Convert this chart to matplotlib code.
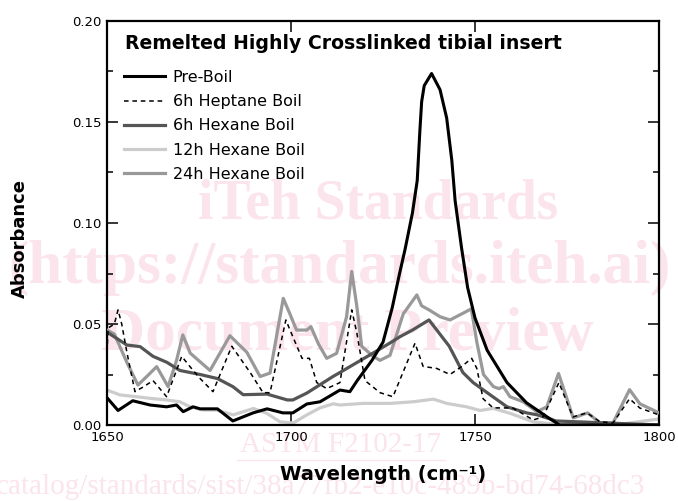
import matplotlib
matplotlib.use("Agg")
import matplotlib.pyplot as plt
from matplotlib.lines import Line2D
from matplotlib.ticker import MultipleLocator, FixedLocator

# Datos (numero de onda, absorbancia)
pre_x = [1650, 1653, 1657, 1661.7, 1666.2, 1668.9, 1670.7, 1673.4, 1675.3, 1680, 1684.2, 1689.7,
         1693.5, 1697.8, 1700.5, 1704.3, 1707.9, 1713.3, 1716, 1718, 1722, 1725, 1727.5, 1729.5,
         1731, 1733, 1734.3, 1735, 1735.5, 1736.2, 1738.2, 1740.5, 1742.3, 1743.7, 1744.6, 1746.4,
         1748, 1750, 1753.3, 1758.7, 1764, 1769.6, 1773, 1800]
pre_y = [0.0135, 0.0072, 0.012, 0.0099, 0.009, 0.0099, 0.0066, 0.009, 0.008, 0.008, 0.002, 0.006,
         0.008, 0.006, 0.006, 0.0104, 0.0115, 0.0173, 0.0165, 0.022, 0.032, 0.041, 0.058, 0.075,
         0.087, 0.105, 0.121, 0.145, 0.160, 0.168, 0.174, 0.166, 0.152, 0.131, 0.111, 0.087,
         0.068, 0.053, 0.037, 0.021, 0.011, 0.004, 0.0, 0.0]

hep_x = [1650, 1650.3, 1652, 1653, 1654, 1655.4, 1657.6, 1660, 1662.5, 1666.2, 1670.3, 1672.5,
         1675.3, 1678.8, 1683.9, 1688.9, 1692.4, 1694.3, 1698.6, 1700.5, 1703, 1705, 1707, 1709.7,
         1713.3, 1716.5, 1717.9, 1720.1, 1724.2, 1727.7, 1733.7, 1735.9, 1739.6, 1743.2, 1746.4,
         1749.1, 1750.5, 1752.2, 1754.9, 1760.3, 1765.8, 1768.5, 1772.8, 1776.6, 1780.4, 1784,
         1787.5, 1792, 1794.8, 1800]
hep_y = [0.036, 0.048, 0.050, 0.057, 0.05, 0.036, 0.0165, 0.019, 0.022, 0.014, 0.034, 0.029,
         0.023, 0.0165, 0.039, 0.026, 0.016, 0.016, 0.052, 0.0437, 0.033, 0.033, 0.021, 0.018,
         0.021, 0.057, 0.0455, 0.022, 0.016, 0.014, 0.0405, 0.029, 0.028, 0.025, 0.029,
         0.033, 0.028, 0.013, 0.0085, 0.0084, 0.0025, 0.004, 0.021, 0.004, 0.006, 0.0016,
         0.001, 0.013, 0.0084, 0.005]

hex6_x = [1650, 1655.4, 1659, 1662.5, 1666.3, 1669.8, 1675.3, 1680, 1684.2, 1687, 1693.5, 1699,
          1700.5, 1704.3, 1711.4, 1713.3, 1722.3, 1726.9, 1729.6, 1733, 1737.5, 1743, 1746.7,
          1749.5, 1753.3, 1758.7, 1764, 1767, 1772, 1800]
hex6_y = [0.046, 0.0396, 0.0388, 0.034, 0.031, 0.027, 0.025, 0.023, 0.019, 0.015, 0.0153, 0.0124,
          0.0124, 0.0158, 0.024, 0.026, 0.0356, 0.0406, 0.0437, 0.047, 0.052, 0.039, 0.026,
          0.021, 0.016, 0.009, 0.006, 0.005, 0.002, 0.0]

h12_x = [1650, 1653.5, 1658, 1661.7, 1666.2, 1669.8, 1672.6, 1676.2, 1679.8, 1684.3, 1689.8,
         1693.4, 1697, 1700.6, 1704.3, 1707.9, 1711.5, 1713.3, 1719.6, 1726.9, 1733.2, 1738.7,
         1742.3, 1747.7, 1751.4, 1755, 1759.5, 1765.8, 1771.2, 1790, 1800]
h12_y = [0.0173, 0.0149, 0.014, 0.0132, 0.0124, 0.0115, 0.009, 0.0074, 0.0074, 0.005, 0.0082,
         0.0058, 0.0016, 0.001, 0.005, 0.0085, 0.0105, 0.0099, 0.0107, 0.0107, 0.0115, 0.0128,
         0.0107, 0.009, 0.0072, 0.0082, 0.0058, 0.0016, 0.0005, 0.0005, 0.003]

h24_x = [1650, 1652, 1655.4, 1658.4, 1660.8, 1663.5, 1666.6, 1668.9, 1670.6, 1672.6, 1678, 1683.4,
         1688, 1691.6, 1694.3, 1697.9, 1699.7, 1701.5, 1704.3, 1705.4, 1707.5, 1709.7, 1712.4,
         1715.1, 1716.5, 1717.9, 1719.2, 1722.3, 1724.2, 1726.9, 1730.5, 1734.2, 1735.5, 1737.5,
         1740.5, 1743.2, 1746.4, 1749, 1750.5, 1752.3, 1755, 1756.5, 1757.7, 1759.5, 1763.1,
         1766.8, 1769.5, 1772.7, 1776.7, 1780.6, 1784, 1787.5, 1792, 1794.8, 1800]
h24_y = [0.047, 0.045, 0.031, 0.0198, 0.024, 0.0289, 0.019, 0.032, 0.0446, 0.0356, 0.027, 0.0442,
         0.036, 0.024, 0.0257, 0.0627, 0.055, 0.047, 0.047, 0.0487, 0.04, 0.033, 0.0355,
         0.0536, 0.076, 0.0586, 0.039, 0.034, 0.032, 0.0345, 0.055, 0.0644, 0.059, 0.057,
         0.0536, 0.052, 0.055, 0.0575, 0.041, 0.025, 0.019, 0.018, 0.019, 0.014, 0.0115,
         0.0066, 0.009, 0.0255, 0.0035, 0.006, 0.001, 0.001, 0.0175, 0.0105, 0.006]

etiquetas = ['Pre-Boil', '6h Heptane Boil', '6h Hexane Boil', '12h Hexane Boil', '24h Hexane Boil']
titulo = 'Remelted Highly Crosslinked tibial insert'

fig = plt.figure(figsize=(6.78, 5.01), dpi=100)
ax = fig.add_axes([107 / 678, 76 / 501, 552 / 678, 404 / 501])
ax.set_facecolor('none')

# Marca de agua (rosa claro, debajo de todo)
rosa = '#fbe4eb'
fig.text(378 / 678, 1 - 205 / 501, 'iTeh Standards', fontsize=40, fontweight='bold',
         family='Liberation Serif', color=rosa, ha='center', va='center', zorder=-5)
fig.text(340 / 678, 1 - 268 / 501, '(https://standards.iteh.ai)', fontsize=44, fontweight='bold',
         family='Liberation Serif', color=rosa, ha='center', va='center', zorder=-5)
fig.text(347 / 678, 1 - 335 / 501, 'Document Preview', fontsize=44, fontweight='bold',
         family='Liberation Serif', color=rosa, ha='center', va='center', zorder=-5)
fig.text(341 / 678, 1 - 445 / 501, 'ASTM F2102-17', fontsize=21,
         family='Liberation Serif', color=rosa, ha='center', va='center', zorder=-5)
fig.add_artist(Line2D([237 / 678, 445 / 678], [1 - 460 / 501, 1 - 460 / 501], color=rosa,
                      lw=1, zorder=-5))
fig.text(-4 / 678, 1 - 487 / 501, 'catalog/standards/sist/38a77fb2-e10c-489b-bd74-68dc3',
         fontsize=21, family='Liberation Serif', color=rosa, ha='left', va='center', zorder=-5)

ax.plot(h12_x, h12_y, color='#cccccc', lw=2.3, label=etiquetas[3], zorder=2)
ax.plot(h24_x, h24_y, color='#999999', lw=2.3, label=etiquetas[4], zorder=3)
ax.plot(hex6_x, hex6_y, color='#555555', lw=2.3, label=etiquetas[2], zorder=4)
ax.plot(hep_x, hep_y, color='black', lw=1.1, ls=(0, (3, 2.5)), label=etiquetas[1], zorder=5)
ax.plot(pre_x, pre_y, color='black', lw=2.2, label=etiquetas[0], zorder=6)

ax.set_xlim(1650, 1800)
ax.set_ylim(0, 0.20)
ax.xaxis.set_major_locator(FixedLocator([1650, 1700, 1750, 1800]))
ax.yaxis.set_major_locator(MultipleLocator(0.05))
ax.yaxis.set_minor_locator(MultipleLocator(0.025))
ax.yaxis.set_major_formatter(matplotlib.ticker.FormatStrFormatter('%.2f'))
ax.tick_params(which='major', direction='in', length=8, width=1.1, top=True, right=True,
               labelsize=9.5, pad=4)
ax.tick_params(which='minor', direction='in', length=4.5, width=1.1, right=True)
for s in ax.spines.values():
    s.set_linewidth(1.6)

ax.text(0.0326, 0.9455, titulo, transform=ax.transAxes, fontsize=13.6, fontweight='bold',
        ha='left', va='center')

orden = [4, 3, 2, 0, 1]
h, l = ax.get_legend_handles_labels()
ax.legend([h[i] for i in orden], [l[i] for i in orden], loc='upper left',
          bbox_to_anchor=(0.031, 0.879), frameon=False, fontsize=11.5, handlelength=2.55,
          handletextpad=0.5, labelspacing=0.58, borderpad=0, borderaxespad=0)

fig.text(383 / 678, 1 - 475 / 501, 'Wavelength (cm\u207b\u00b9)', fontsize=14, fontweight='bold',
         ha='center', va='center')
fig.text(20 / 678, 1 - 238 / 501, 'Absorbance', fontsize=13, fontweight='bold',
         ha='center', va='center', rotation=90)

fig.savefig('out.png', dpi=100)
